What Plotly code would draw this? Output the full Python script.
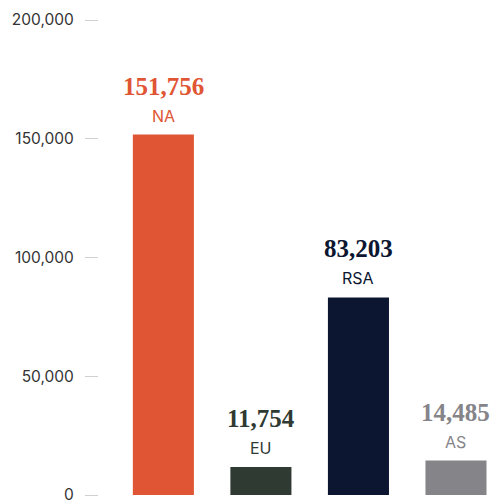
import plotly.graph_objects as go

categories = ["NA", "EU", "RSA", "AS"]
values = [151756, 11754, 83203, 14485]
colors = ["#E05533", "#2F3A33", "#0C1631", "#858489"]
tick_vals = [0, 50000, 100000, 150000, 200000]
tick_text = ["0", "50,000", "100,000", "150,000", "200,000"]

x_pos = list(range(len(categories)))

fig = go.Figure()
fig.add_trace(go.Bar(
    x=x_pos, y=values, marker=dict(color=colors, line=dict(width=0)),
    width=0.626, hoverinfo="skip", showlegend=False,
))

for xi, v, c, cat in zip(x_pos, values, colors, categories):
    fig.add_annotation(x=xi, y=v, text=f"{v:,}", showarrow=False,
                       xanchor="center", yanchor="bottom", yshift=33,
                       font=dict(family="Liberation Serif", size=25, color=c, weight="bold"))
    fig.add_annotation(x=xi, y=v, text=cat, showarrow=False,
                       xanchor="center", yanchor="bottom", yshift=7,
                       font=dict(family="Inter", size=16, color=c))

fig.update_layout(
    width=495, height=501,
    margin=dict(l=99, r=0, t=20, b=6, autoexpand=False),
    plot_bgcolor="white", paper_bgcolor="white",
    bargap=0.374,
    xaxis=dict(range=[-0.66, 3.40], showticklabels=False, showgrid=False,
               zeroline=False, showline=False, ticks="", automargin=False),
    yaxis=dict(range=[0, 200000], tickvals=tick_vals, ticktext=tick_text,
               showgrid=False, zeroline=False, showline=False, automargin=False,
               ticks="outside", ticklen=13, tickcolor="#d0d0d0", tickwidth=1,
               ticklabelstandoff=8, ticklabeloverflow="allow",
               tickfont=dict(family="Inter", size=15.5, color="#333333")),
)

fig.write_html("out.html")
